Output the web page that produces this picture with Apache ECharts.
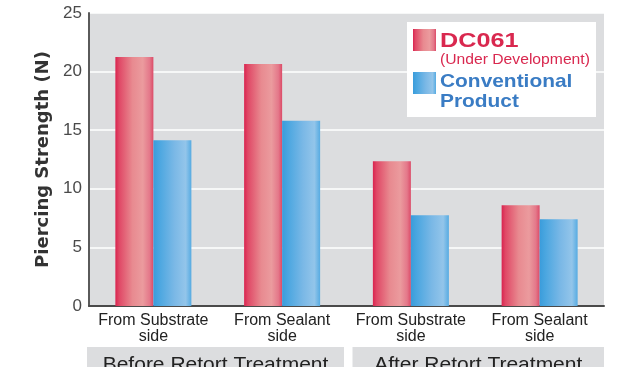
<!DOCTYPE html>
<html>
<head>
<meta charset="utf-8">
<script src="https://cdn.jsdelivr.net/npm/echarts@6/dist/echarts.min.js"></script>
<style>
  html, body { margin: 0; padding: 0; background: #ffffff; }
  #chart { width: 626px; height: 367px; }
</style>
</head>
<body>
<div id="chart"></div>
<script>
// Piercing strength of film samples, before and after retort treatment
var categories = ['From Substrate\nside', 'From Sealant\nside', 'From Substrate\nside', 'From Sealant\nside'];
var dc061Values = [21.25, 20.65, 12.35, 8.6];
var conventionalValues = [14.15, 15.8, 7.75, 7.4];
var yTicks = [0, 5, 10, 15, 20, 25];
var groupLabels = ['Before Retort Treatment', 'After Retort Treatment'];
var seriesNames = ['DC061', 'Conventional Product'];

var GRID = { left: 89, right: 22, top: 13, bottom: 61 };
var W = 626, H = 367;

function hGrad(stops) {
  return new echarts.graphic.LinearGradient(0, 0, 1, 0, stops.map(function (s) {
    return { offset: s[0], color: s[1] };
  }));
}
var redFill = hGrad([[0, '#d9234f'], [0.1, '#e04866'], [0.45, '#e88a90'], [0.72, '#eb9b9e'], [0.9, '#e4788a'], [1, '#dc4b68']]);
var blueFill = hGrad([[0, '#3a9cdb'], [0.15, '#4aa6e0'], [0.55, '#7ab8e6'], [0.85, '#93c5ea'], [1, '#56abe2']]);

var chart = echarts.init(document.getElementById('chart'), null, { renderer: 'canvas' });

var option = {
  animation: false,
  backgroundColor: '#ffffff',
  grid: { left: GRID.left, right: GRID.right, top: GRID.top, bottom: GRID.bottom, show: true, backgroundColor: '#dcdddf', borderWidth: 0 },
  legend: { show: false },
  xAxis: {
    type: 'category',
    data: categories,
    axisLine: { show: true, lineStyle: { color: '#4a4a4a', width: 2 } },
    axisTick: { show: false },
    axisLabel: {
      interval: 0,
      margin: 7,
      fontFamily: 'Liberation Sans Narrow, Liberation Sans, sans-serif',
      fontSize: 16,
      lineHeight: 15.5,
      color: '#222222'
    }
  },
  yAxis: {
    type: 'value',
    min: yTicks[0],
    max: yTicks[yTicks.length - 1],
    interval: 5,
    name: 'Piercing Strength (N)',
    nameLocation: 'middle',
    nameGap: 34,
    nameTextStyle: { fontFamily: 'DejaVu Sans, sans-serif', fontWeight: 'bold', fontSize: 18, color: '#333333' },
    axisLine: { show: true, lineStyle: { color: '#5a5a5a', width: 2 } },
    axisTick: { show: false },
    axisLabel: { margin: 7, fontFamily: 'Liberation Sans, sans-serif', fontSize: 17, color: '#4a4a4a' },
    splitLine: { show: true, lineStyle: { color: '#ffffff', width: 1.5 } }
  },
  series: [
    {
      name: seriesNames[0],
      type: 'bar',
      data: dc061Values,
      barWidth: 38,
      barGap: '0%',
      itemStyle: { color: redFill }
    },
    {
      name: seriesNames[1],
      type: 'bar',
      data: conventionalValues,
      barWidth: 38,
      barGap: '0%',
      itemStyle: { color: blueFill }
    }
  ]
};
chart.setOption(option);

// Legend panel and the two treatment-group bands under the axis
function drawDecorations() {
  var x0 = chart.convertToPixel({ xAxisIndex: 0 }, 0);
  var x1 = chart.convertToPixel({ xAxisIndex: 0 }, 1);
  var step = x1 - x0;
  var plotLeft = GRID.left, plotRight = W - GRID.right;
  var mid = plotLeft + 2 * step;
  var bandTop = 347;
  var elements = [];

  var bands = [[plotLeft - 2, mid - 2.5], [mid + 6, plotRight]];
  bands.forEach(function (b, i) {
    elements.push({
      type: 'rect', shape: { x: b[0], y: bandTop, width: b[1] - b[0], height: H - bandTop + 10 },
      style: { fill: '#dcdddf' }, silent: true
    });
    elements.push({
      type: 'text', x: (b[0] + b[1]) / 2, y: bandTop + 8,
      style: { text: groupLabels[i], fill: '#222222', font: '21px "Liberation Sans", sans-serif', align: 'center', verticalAlign: 'top' },
      silent: true
    });
  });

  var lx = 407, ly = 22;
  elements.push({ type: 'rect', shape: { x: lx, y: ly, width: 189, height: 95 }, style: { fill: '#ffffff' }, silent: true });
  elements.push({ type: 'rect', shape: { x: 413, y: 29, width: 23, height: 22 }, style: { fill: redFill }, silent: true });
  elements.push({ type: 'rect', shape: { x: 413, y: 72, width: 23, height: 22 }, style: { fill: blueFill }, silent: true });
  elements.push({ type: 'text', x: 440, y: 31, scaleX: 1.2, style: { text: seriesNames[0], fill: '#d9284f', font: 'bold 21px "Liberation Sans", sans-serif', verticalAlign: 'top' }, silent: true });
  elements.push({ type: 'text', x: 440, y: 53, scaleX: 1.12, style: { text: '(Under Development)', fill: '#d9284f', font: '14px "Liberation Sans", sans-serif', verticalAlign: 'top' }, silent: true });
  elements.push({ type: 'text', x: 440, y: 72, scaleX: 1.1, style: { text: 'Conventional\nProduct', fill: '#3a7cc4', font: 'bold 19px "Liberation Sans", sans-serif', lineHeight: 20, verticalAlign: 'top' }, silent: true });

  chart.setOption({ graphic: { elements: elements } });
}
drawDecorations();
</script>
</body>
</html>
